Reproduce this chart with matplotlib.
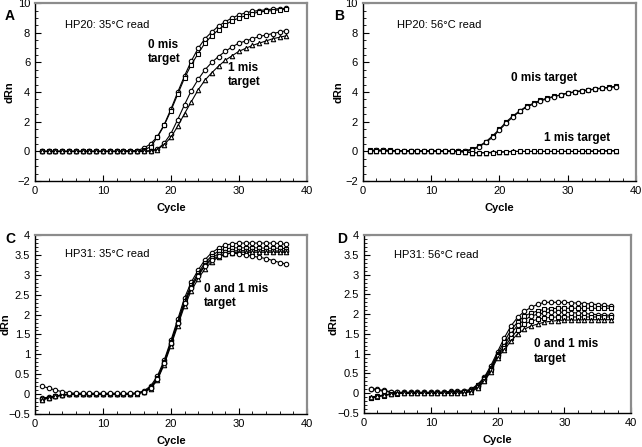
import numpy as np
import matplotlib.pyplot as plt
from matplotlib.ticker import MultipleLocator, FuncFormatter

plt.rcParams['font.family'] = ['Liberation Sans', 'DejaVu Sans']

cycles = list(range(1, 38))

# Painel A: HP20, leitura a 35 C
a_0mis_1 = [0.0, 0.0, 0.0, 0.0, 0.0, 0.0, 0.0, 0.0, 0.0, 0.0, 0.0, 0.0, 0.02, 0.03, 0.05,
            0.22, 0.5, 1.0, 1.8, 2.85, 4.0, 5.1, 6.1, 6.95, 7.6, 8.05, 8.45, 8.75, 9.0, 9.2,
            9.35, 9.45, 9.5, 9.55, 9.6, 9.62, 9.65]
a_0mis_2 = [0.0, 0.0, 0.0, 0.0, 0.0, 0.0, 0.0, 0.0, 0.0, 0.0, 0.0, 0.0, 0.02, 0.02, 0.02,
            0.1, 0.3, 0.95, 1.75, 2.75, 3.85, 4.95, 5.85, 6.6, 7.3, 7.8, 8.2, 8.55, 8.8, 9.0,
            9.15, 9.3, 9.4, 9.45, 9.5, 9.55, 9.6]
a_1mis_1 = [0.0, 0.0, 0.0, 0.0, 0.0, 0.0, 0.0, 0.0, 0.0, 0.0, 0.0, 0.0, 0.0, 0.0, 0.0,
            0.0, 0.05, 0.15, 0.55, 1.2, 2.15, 3.15, 4.1, 4.85, 5.5, 6.0, 6.4, 6.75, 7.05, 7.3,
            7.45, 7.6, 7.75, 7.85, 7.95, 8.05, 8.15]
a_1mis_2 = [0.0, 0.0, 0.0, 0.0, 0.0, 0.0, 0.0, 0.0, 0.0, 0.0, 0.0, 0.0, 0.0, 0.0, 0.0,
            0.0, 0.03, 0.12, 0.45, 0.95, 1.7, 2.55, 3.35, 4.15, 4.8, 5.3, 5.75, 6.15, 6.45, 6.75,
            6.95, 7.15, 7.3, 7.45, 7.6, 7.7, 7.8]

# Painel B: HP20, leitura a 56 C
b_0mis_1 = [0.08, 0.08, 0.1, 0.08, 0.05, 0.05, 0.03, 0.03, 0.02, 0.02, 0.02, 0.02, 0.02, 0.02, 0.05,
            0.15, 0.35, 0.65, 1.05, 1.5, 2.0, 2.4, 2.75, 3.05, 3.25, 3.45, 3.6, 3.72, 3.82, 3.95,
            4.02, 4.1, 4.15, 4.22, 4.28, 4.32, 4.4]
b_0mis_2 = [0.05, 0.06, 0.06, 0.05, 0.04, 0.03, 0.02, 0.02, 0.02, 0.02, 0.02, 0.02, 0.02, 0.02, 0.03,
            0.1, 0.3, 0.6, 0.95, 1.45, 1.9, 2.35, 2.7, 3.0, 3.2, 3.4, 3.55, 3.7, 3.8, 3.92,
            4.0, 4.07, 4.12, 4.2, 4.25, 4.3, 4.35]
b_1mis_1 = [0.05, 0.05, 0.04, 0.04, 0.03, 0.03, 0.02, 0.02, 0.02, 0.02, 0.02, 0.02, 0.02, 0.0, -0.02,
            -0.08, -0.1, -0.08, -0.06, -0.04, -0.02, 0.0, 0.0, 0.0, 0.0, 0.0, 0.0, 0.0, 0.0, 0.0,
            0.0, 0.0, 0.02, 0.02, 0.03, 0.04, 0.05]
b_1mis_2 = [0.03, 0.03, 0.03, 0.02, 0.02, 0.02, 0.01, 0.01, 0.01, 0.01, 0.01, 0.01, 0.0, -0.02, -0.05,
            -0.1, -0.1, -0.1, -0.1, -0.06, -0.03, -0.01, 0.0, 0.0, 0.0, 0.0, 0.0, 0.0, 0.0, 0.0,
            0.0, 0.0, 0.0, 0.01, 0.02, 0.02, 0.03]

# Painel C: HP31, leitura a 35 C
c_1 = [-0.1, -0.08, -0.05, -0.02, 0.0, 0.0, 0.0, 0.0, 0.0, 0.0, 0.0, 0.0, 0.0, 0.0, 0.02,
       0.08, 0.2, 0.45, 0.85, 1.35, 1.88, 2.42, 2.82, 3.12, 3.38, 3.56, 3.67, 3.75, 3.78, 3.8,
       3.8, 3.8, 3.8, 3.8, 3.8, 3.79, 3.77]
c_2 = [-0.15, -0.1, -0.06, -0.03, -0.01, 0.0, 0.0, 0.0, 0.0, 0.0, 0.0, 0.0, 0.0, 0.0, 0.02,
       0.06, 0.17, 0.4, 0.8, 1.3, 1.82, 2.35, 2.75, 3.05, 3.3, 3.48, 3.6, 3.65, 3.68, 3.68,
       3.68, 3.68, 3.68, 3.67, 3.67, 3.67, 3.66]
c_3 = [-0.13, -0.09, -0.05, -0.02, 0.0, 0.0, 0.0, 0.0, 0.0, 0.0, 0.0, 0.0, 0.0, 0.0, 0.02,
       0.05, 0.15, 0.38, 0.78, 1.27, 1.78, 2.3, 2.7, 3.0, 3.25, 3.42, 3.53, 3.58, 3.6, 3.61,
       3.61, 3.61, 3.61, 3.61, 3.6, 3.6, 3.6]
c_4 = [-0.14, -0.1, -0.06, -0.03, -0.01, 0.0, 0.0, 0.0, 0.0, 0.0, 0.0, 0.0, 0.0, 0.0, 0.01,
       0.04, 0.13, 0.35, 0.74, 1.22, 1.72, 2.22, 2.6, 2.9, 3.15, 3.33, 3.45, 3.52, 3.56, 3.57,
       3.57, 3.57, 3.57, 3.57, 3.57, 3.57, 3.57]
c_5 = [0.2, 0.15, 0.1, 0.06, 0.03, 0.02, 0.02, 0.02, 0.02, 0.02, 0.02, 0.02, 0.02, 0.02, 0.03,
       0.06, 0.16, 0.38, 0.78, 1.28, 1.78, 2.28, 2.68, 2.98, 3.22, 3.38, 3.47, 3.52, 3.55, 3.53,
       3.5, 3.47, 3.44, 3.41, 3.36, 3.31, 3.27]

# Painel D: HP31, leitura a 56 C
d_1 = [0.12, 0.1, 0.07, 0.04, 0.02, 0.02, 0.02, 0.02, 0.02, 0.02, 0.02, 0.03, 0.05, 0.05, 0.06,
       0.1, 0.22, 0.4, 0.7, 1.05, 1.4, 1.7, 1.92, 2.07, 2.17, 2.25, 2.3, 2.3, 2.3, 2.3,
       2.29, 2.28, 2.27, 2.26, 2.24, 2.22, 2.2]
d_2 = [-0.12, -0.08, -0.05, -0.02, 0.0, 0.0, 0.0, 0.0, 0.0, 0.0, 0.0, 0.01, 0.02, 0.03, 0.04,
       0.08, 0.2, 0.38, 0.65, 1.0, 1.3, 1.6, 1.8, 1.95, 2.03, 2.08, 2.12, 2.14, 2.15, 2.15,
       2.15, 2.15, 2.15, 2.15, 2.15, 2.15, 2.15]
d_3 = [0.1, 0.08, 0.05, 0.03, 0.02, 0.02, 0.02, 0.02, 0.02, 0.02, 0.02, 0.02, 0.03, 0.04, 0.05,
       0.07, 0.18, 0.35, 0.62, 0.98, 1.2, 1.5, 1.72, 1.85, 1.95, 2.0, 2.03, 2.05, 2.05, 2.05,
       2.04, 2.03, 2.02, 2.0, 1.99, 1.98, 1.97]
d_4 = [-0.13, -0.09, -0.06, -0.03, -0.01, 0.0, 0.0, 0.0, 0.0, 0.0, 0.0, 0.0, 0.0, 0.0, 0.02,
       0.05, 0.15, 0.32, 0.58, 0.95, 1.15, 1.4, 1.6, 1.75, 1.82, 1.87, 1.9, 1.92, 1.93, 1.93,
       1.93, 1.93, 1.93, 1.93, 1.93, 1.93, 1.93]
d_5 = [-0.1, -0.07, -0.04, -0.02, 0.0, 0.0, 0.0, 0.0, 0.0, 0.0, 0.0, 0.0, 0.0, 0.0, 0.01,
       0.04, 0.13, 0.3, 0.55, 0.9, 1.1, 1.32, 1.5, 1.62, 1.7, 1.75, 1.8, 1.82, 1.84, 1.85,
       1.85, 1.85, 1.86, 1.86, 1.86, 1.86, 1.86]

fig = plt.figure(figsize=(6.42, 4.47), dpi=100)

axA = fig.add_axes([0.0545, 0.595, 0.4235, 0.398])
axB = fig.add_axes([0.565, 0.595, 0.426, 0.398])
axC = fig.add_axes([0.0545, 0.074, 0.4235, 0.400])
axD = fig.add_axes([0.567, 0.076, 0.416, 0.398])

# rótulos sem zeros à direita: 0, 0.5, 1, 1.5 ...
rotulo = FuncFormatter(lambda v, pos: ('%g' % v).replace('-', '\u2212'))


def curva(ax, y, marcador):
    ax.plot(cycles, y, '-', color='black', lw=0.8, marker=marcador, ms=3.2,
            mfc='white', mec='black', mew=0.8)


def estilo(ax, ymin, ymax, ymaj, ymin_step, xlab_y):
    ax.set_xlim(0, 40)
    ax.set_ylim(ymin, ymax)
    ax.xaxis.set_major_locator(MultipleLocator(10))
    ax.xaxis.set_minor_locator(MultipleLocator(2))
    ax.yaxis.set_major_locator(MultipleLocator(ymaj))
    ax.yaxis.set_minor_locator(MultipleLocator(ymin_step))
    ax.yaxis.set_major_formatter(rotulo)
    ax.xaxis.set_major_formatter(rotulo)
    ax.tick_params(which='both', direction='in', top=False, right=False,
                   labelsize=8, colors='black')
    ax.tick_params(which='major', length=4, width=0.8)
    ax.tick_params(which='minor', length=2, width=0.6)
    ax.spines['left'].set_linewidth(1.0)
    ax.spines['bottom'].set_linewidth(1.0)
    for lado in ['top', 'right']:
        ax.spines[lado].set_color('#8c8c8c')
        ax.spines[lado].set_linewidth(1.6)
    ax.set_xlabel('Cycle', fontsize=8, fontweight='bold', labelpad=5)
    ax.set_ylabel('dRn', fontsize=8, fontweight='bold')
    ax.yaxis.set_label_coords(xlab_y, 0.5)


# ==== A ====
curva(axA, a_0mis_1, 'o')
curva(axA, a_0mis_2, 's')
curva(axA, a_1mis_1, 'o')
curva(axA, a_1mis_2, '^')
estilo(axA, -2, 10, 2, 0.5, -0.075)
axA.text(4.4, 8.55, 'HP20: 35°C read', fontsize=8, va='center')
axA.text(16.6, 6.7, '0 mis\ntarget', fontsize=8.5, fontweight='bold', va='center',
         linespacing=1.3)
axA.text(28.4, 5.15, '1 mis\ntarget', fontsize=8.5, fontweight='bold', va='center',
         linespacing=1.3)

# ==== B ====
curva(axB, b_0mis_1, 's')
curva(axB, b_0mis_2, 'o')
curva(axB, b_1mis_1, '^')
curva(axB, b_1mis_2, 's')
estilo(axB, -2, 10, 2, 0.5, -0.071)
axB.text(5.0, 8.5, 'HP20: 56°C read', fontsize=8, va='center')
axB.text(21.7, 4.93, '0 mis target', fontsize=8.5, fontweight='bold', va='center')
axB.text(26.5, 0.93, '1 mis target', fontsize=8.5, fontweight='bold', va='center')

# ==== C ====
curva(axC, c_1, 'o')
curva(axC, c_2, 's')
curva(axC, c_3, 'o')
curva(axC, c_4, '^')
curva(axC, c_5, 'o')
estilo(axC, -0.5, 4, 0.5, 0.1, -0.09)
axC.text(4.4, 3.52, 'HP31: 35°C read', fontsize=8, va='center')
axC.text(24.9, 2.47, '0 and 1 mis\ntarget', fontsize=8.5, fontweight='bold', va='center',
         linespacing=1.3)

# ==== D ====
curva(axD, d_1, 'o')
curva(axD, d_2, 's')
curva(axD, d_3, 'o')
curva(axD, d_4, 's')
curva(axD, d_5, '^')
estilo(axD, -0.5, 4, 0.5, 0.1, -0.095)
axD.text(4.5, 3.5, 'HP31: 56°C read', fontsize=8, va='center')
axD.text(25.5, 1.05, '0 and 1 mis\ntarget', fontsize=8.5, fontweight='bold', va='center',
         linespacing=1.3)

# letras dos painéis
for letra, x, y in [('A', 0.008, 0.965), ('B', 0.52, 0.965),
                    ('C', 0.008, 0.465), ('D', 0.525, 0.465)]:
    fig.text(x, y, letra, fontsize=10, fontweight='bold', va='center')

fig.savefig('out.png', dpi=100)
